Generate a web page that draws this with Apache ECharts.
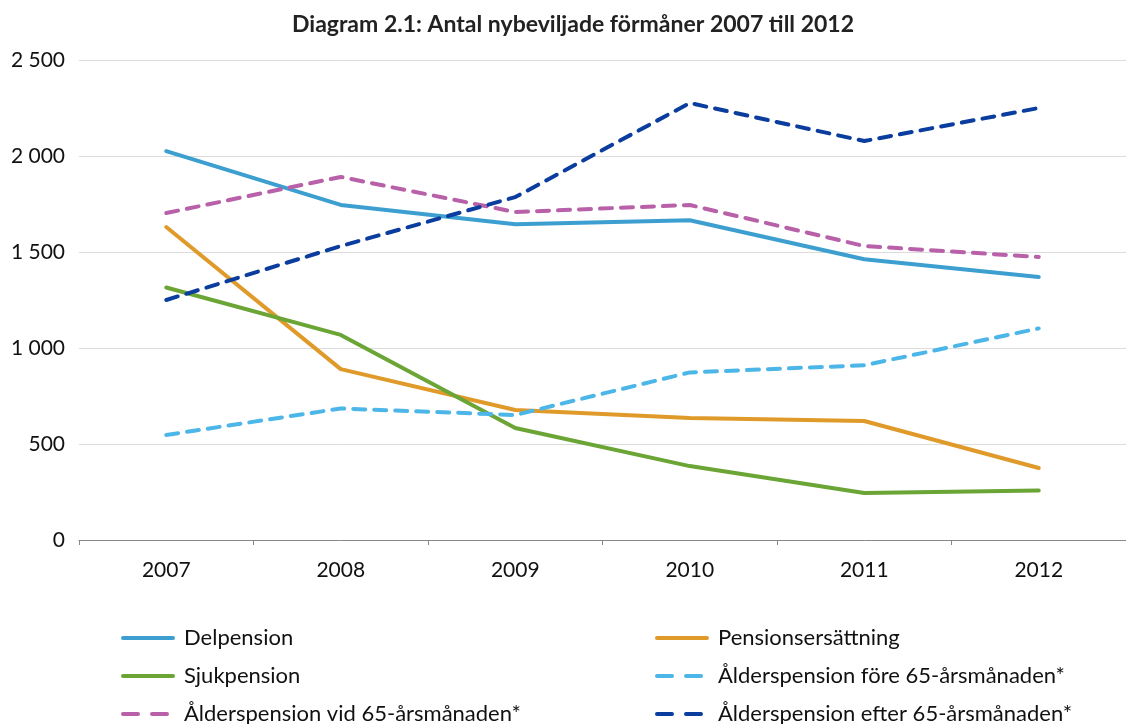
<!DOCTYPE html>
<html>
<head>
<meta charset="utf-8">
<script src="https://cdn.jsdelivr.net/npm/echarts@6/dist/echarts.min.js"></script>
<style>
  html, body { margin: 0; padding: 0; background: #fff; }
  #chart { width: 1126px; height: 724px; }
</style>
</head>
<body>
<div id="chart"></div>
<script>
var years = ['2007', '2008', '2009', '2010', '2011', '2012']
var delpension = [2025, 1745, 1645, 1665, 1462, 1370]
var pensionsersattning = [1630, 890, 677, 635, 620, 375]
var sjukpension = [1315, 1068, 583, 385, 245, 258]
var aldersFore = [547, 685, 651, 873, 910, 1102]
var aldersVid = [1703, 1891, 1708, 1745, 1531, 1474]
var aldersEfter = [1250, 1531, 1786, 2276, 2078, 2250]

var font = 'Lato'

function line(name, data, color, dashed) {
  return {
    name: name,
    type: 'line',
    data: data,
    symbol: 'none',
    smooth: false,
    lineStyle: {
      color: color,
      width: 4,
      type: dashed ? [12, 9] : 'solid',
      cap: 'round'
    },
    itemStyle: { color: color }
  }
}

// legend entries: dashed ones get a longer dash than in the plot
function entry(name, dashed) {
  return dashed
    ? { name: name, lineStyle: { type: [15, 14], width: 4, cap: 'round' } }
    : { name: name, lineStyle: { width: 4 } }
}

var legendBase = {
  orient: 'vertical',
  top: 622,
  height: 120,
  itemWidth: 50,
  itemHeight: 14,
  itemGap: 16,
  itemStyle: { opacity: 0 },
  lineStyle: { width: 4 },
  textStyle: { fontFamily: font, fontSize: 22, color: '#111', padding: [0, 0, 0, 6] }
}

var chart = echarts.init(document.getElementById('chart'))
chart.setOption({
  animation: false,
  title: {
    text: 'Diagram 2.1: Antal nybeviljade förmåner 2007 till 2012',
    left: 568,
    textAlign: 'center',
    top: 8,
    textStyle: { fontFamily: font, fontSize: 23, fontWeight: 'bold', color: '#222' }
  },
  grid: {
    left: 79,
    top: 60,
    width: 1055,
    height: 480,
    containLabel: false
  },
  legend: [
    Object.assign({}, legendBase, {
      left: 116,
      data: [
        entry('Delpension', false),
        entry('Sjukpension', false),
        entry('Ålderspension vid 65-årsmånaden*', true)
      ]
    }),
    Object.assign({}, legendBase, {
      left: 650,
      data: [
        entry('Pensionsersättning', false),
        entry('Ålderspension före 65-årsmånaden*', true),
        entry('Ålderspension efter 65-årsmånaden*', true)
      ]
    })
  ],
  xAxis: {
    type: 'category',
    data: years,
    boundaryGap: true,
    axisLine: { lineStyle: { color: '#888', width: 1 } },
    axisTick: { show: true, length: 5, lineStyle: { color: '#888' } },
    axisLabel: { fontFamily: font, fontSize: 21, color: '#111', margin: 20 }
  },
  yAxis: {
    type: 'value',
    min: 0,
    max: 2500,
    interval: 500,
    axisLine: { show: false },
    axisTick: { show: false },
    splitLine: { lineStyle: { color: '#dcdcdc', width: 1 } },
    axisLabel: {
      fontFamily: font,
      fontSize: 21,
      color: '#111',
      margin: 14,
      formatter: function (v) {
        return String(v).replace(/\B(?=(\d{3})+(?!\d))/g, ' ')
      }
    }
  },
  series: [
    line('Delpension', delpension, '#3c9fd0', false),
    line('Pensionsersättning', pensionsersattning, '#df9a2a', false),
    line('Sjukpension', sjukpension, '#6aa536', false),
    line('Ålderspension före 65-årsmånaden*', aldersFore, '#4db6e8', true),
    line('Ålderspension vid 65-årsmånaden*', aldersVid, '#b861a8', true),
    line('Ålderspension efter 65-årsmånaden*', aldersEfter, '#0a3d9e', true)
  ]
})
</script>
</body>
</html>
